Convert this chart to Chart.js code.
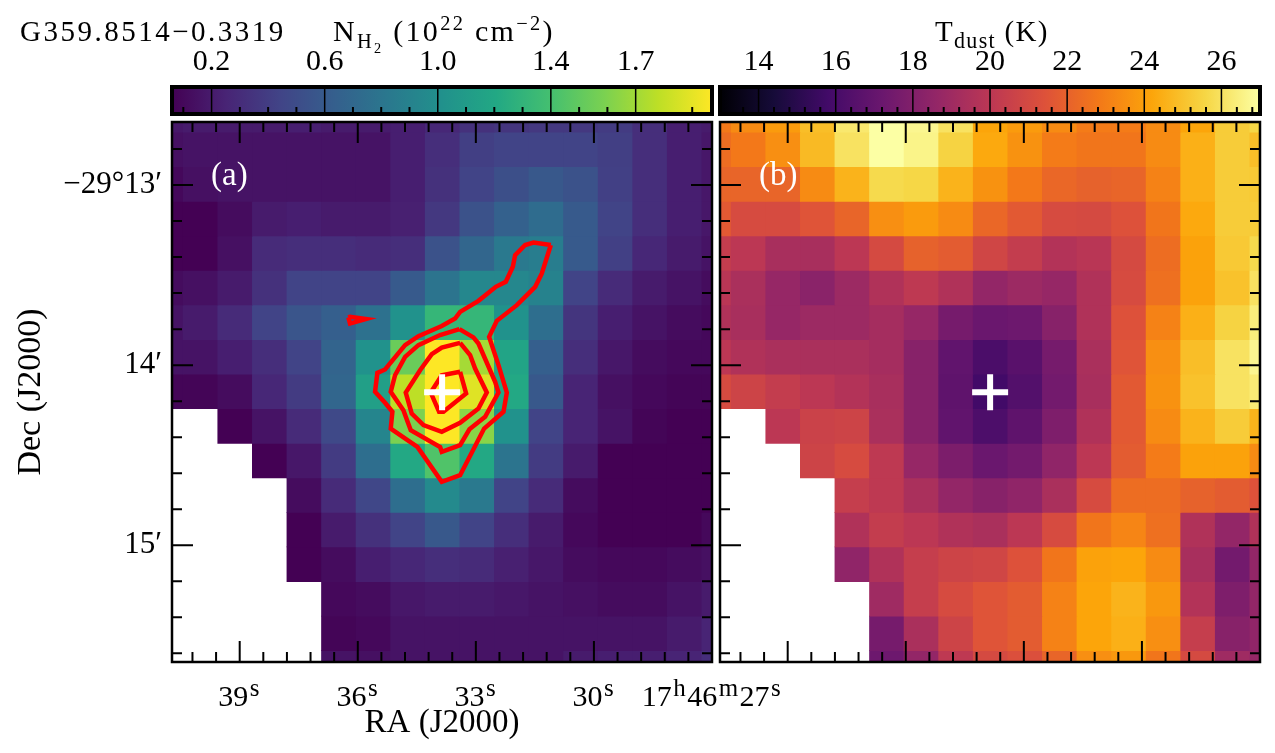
<!DOCTYPE html>
<html>
<head>
<meta charset="utf-8">
<script src="https://cdn.jsdelivr.net/npm/chart.js@4"></script>
<style>
  html, body { margin: 0; padding: 0; background: #fff; overflow: hidden; }
  #page { position: relative; width: 1275px; height: 753px; overflow: hidden; }
  canvas { position: absolute; left: 0; top: 0; }
  .lab { position: absolute; font-family: "Liberation Serif", serif; font-size: 29px; line-height: 34px; color: #000; white-space: nowrap; }
  .lab sub, .lab sup { line-height: 0; font-size: 68%; }
  .lab sub sub { font-size: 70%; }
  .panel { color: #fff; font-size: 33px; }
</style>
</head>
<body>
<div id="page">
  <canvas id="cbN" width="1400" height="753"></canvas>
  <canvas id="cbT" width="1400" height="753"></canvas>
  <canvas id="mapN" width="1400" height="753"></canvas>
  <canvas id="mapT" width="1400" height="753"></canvas>
  <div class="lab" style="left:20px;top:14px;letter-spacing:2.5px">G359.8514−0.3319</div>
  <div class="lab" style="left:333px;top:14px;font-size:30px;letter-spacing:2.3px">N<sub>H<sub>2</sub></sub> (10<sup>22</sup> cm<sup>−2</sup>)</div>
  <div class="lab" style="left:935px;top:14px;letter-spacing:1.3px">T<sub style="font-size:76%">dust</sub> (K)</div>
  <div class="lab panel" style="left:211px;top:157px">(a)</div>
  <div class="lab panel" style="left:759px;top:157px">(b)</div>
</div>
<script>
// column density, 10^22 cm^-2, top row first, null = no data
const nh2Rows = [
  [.18,.20,.20,.20,.22,.20,.20,.22,.27,.33,.35,.37,.37,.39,.31,.22,.20],
  [.14,.16,.16,.16,.16,.16,.16,.22,.31,.41,.44,.44,.44,.41,.31,.22,.18],
  [.10,.14,.16,.16,.16,.16,.16,.22,.33,.44,.52,.58,.54,.42,.31,.22,.18],
  [.06,.06,.12,.20,.22,.20,.20,.23,.37,.54,.65,.73,.60,.44,.31,.22,.18],
  [.06,.06,.14,.29,.31,.31,.29,.31,.54,.69,.83,.86,.60,.42,.27,.20,.16],
  [.12,.14,.20,.33,.44,.44,.44,.60,.79,.94,.94,.90,.44,.29,.20,.16,.12],
  [.16,.20,.29,.44,.56,.63,.77,1.02,1.32,1.32,1.02,.75,.35,.22,.16,.12,.10],
  [.16,.16,.22,.31,.44,.67,1.02,1.53,1.97,1.71,1.17,.63,.31,.18,.12,.10,.10],
  [.08,.08,.12,.27,.39,.69,1.13,1.78,1.97,1.88,1.21,.58,.25,.14,.10,.08,.08],
  [null,null,.06,.16,.29,.48,.92,1.59,1.97,1.63,1.02,.44,.25,.16,.08,.06,.06],
  [null,null,null,.06,.18,.39,.75,1.21,1.44,1.21,.79,.39,.20,.06,.06,.06,.06],
  [null,null,null,null,.12,.29,.46,.75,.96,.83,.44,.29,.12,.06,.06,.06,.06],
  [null,null,null,null,.06,.20,.33,.44,.58,.44,.31,.20,.10,.06,.06,.06,.10],
  [null,null,null,null,.06,.12,.22,.27,.31,.29,.23,.18,.12,.10,.10,.12,.14],
  [null,null,null,null,null,.10,.12,.18,.20,.20,.18,.16,.14,.12,.12,.16,.20],
  [null,null,null,null,null,.08,.10,.16,.16,.16,.16,.16,.16,.16,.16,.20,.25],
  [null,null,null,null,null,.16,.14,.16,.16,.16,.16,.16,.20,.22,.22,.25,.31]
];
// dust temperature, K
const tdustRows = [
  [22.8,23.4,23.9,24.9,26.2,27.0,26.7,26.0,24.2,23.9,23.4,22.9,22.9,23.4,24.2,25.3,25.6],
  [22.4,22.8,23.5,24.8,26.0,27.0,26.6,25.5,24.3,23.6,22.9,22.7,22.7,23.4,24.5,25.3,24.9],
  [22.1,22.1,22.1,23.4,24.6,25.7,25.6,24.6,23.6,22.8,22.2,22.0,22.1,23.1,24.5,25.3,25.2],
  [21.7,21.1,21.1,21.5,22.1,23.5,23.9,23.4,22.2,21.7,21.1,21.0,21.4,22.7,24.3,25.3,25.3],
  [20.3,20.0,19.3,19.3,20.0,21.0,22.0,21.8,20.8,20.3,19.7,19.9,21.0,22.4,24.1,25.2,25.7],
  [19.9,19.4,18.7,18.3,18.9,19.6,20.1,19.6,18.6,18.9,18.7,19.6,21.1,22.5,24.1,25.0,26.0],
  [19.6,19.3,18.7,18.9,18.9,19.2,18.7,17.6,17.2,17.3,18.2,19.6,21.4,23.1,24.5,25.5,26.4],
  [20.0,19.6,19.4,19.4,19.4,19.2,18.2,16.9,16.1,16.6,17.6,19.4,21.5,23.5,24.9,26.0,26.7],
  [21.1,20.7,20.3,20.0,19.7,19.3,18.2,16.8,15.8,16.4,17.5,19.3,21.7,23.6,25.0,26.0,26.3],
  [null,null,20.0,20.6,20.7,19.4,18.2,16.9,16.2,16.8,17.9,19.6,21.7,23.4,24.6,25.3,24.6],
  [null,null,null,20.7,21.1,20.1,18.7,17.8,17.2,17.5,18.5,20.0,21.8,22.9,24.1,24.1,23.4],
  [null,null,null,null,20.4,20.1,19.4,18.6,18.2,18.5,19.4,21.1,22.4,22.4,22.0,21.8,21.4],
  [null,null,null,null,19.6,20.3,20.0,19.6,19.4,20.0,21.1,22.7,23.2,22.5,19.6,18.6,19.6],
  [null,null,null,null,18.5,19.6,20.4,20.7,20.8,21.4,22.7,24.1,24.2,23.4,19.3,17.5,18.6],
  [null,null,null,null,null,19.0,20.4,21.1,21.5,21.8,23.1,24.2,24.6,23.8,19.7,17.9,18.6],
  [null,null,null,null,null,17.6,19.4,20.7,21.5,21.8,23.1,24.2,24.5,23.5,20.4,18.2,18.5],
  [null,null,null,null,null,17.3,18.6,20.1,21.0,21.3,22.1,23.5,23.8,22.7,21.0,19.0,18.7]
];

// contours as [RA seconds, Dec arcmin past -29 deg]
const contourOuter = [[31.095,13.333],[31.535,13.319],[31.747,13.333],[32.002,13.389],[32.061,13.454],[32.239,13.537],[32.493,13.565],[32.934,13.643],[33.4,13.704],[33.527,13.741],[33.866,13.783],[34.459,13.839],[34.798,13.889],[35.307,14.024],[35.502,14.043],[35.561,14.148],[35.307,14.209],[35.12,14.259],[35.163,14.352],[34.485,14.454],[33.866,14.648],[33.4,14.611],[32.79,14.352],[32.298,14.259],[32.213,14.152],[32.425,14.0],[32.663,13.843],[32.468,13.754],[31.959,13.667],[31.493,13.565],[31.324,13.491],[31.095,13.333]];
const contourSecond = [[33.417,13.8],[33.908,13.833],[34.459,13.889],[34.798,13.954],[35.053,14.056],[35.163,14.148],[34.841,14.25],[34.654,14.361],[33.908,14.454],[33.866,14.481],[33.4,14.444],[33.163,14.356],[32.764,14.287],[32.425,14.152],[32.51,14.093],[32.934,13.88],[33.061,13.846],[33.417,13.8]];
const contourThird = [[33.4,13.876],[33.866,13.902],[34.12,13.939],[34.417,14.028],[34.781,14.152],[34.629,14.269],[34.332,14.333],[33.866,14.37],[33.4,14.32],[32.934,14.241],[32.722,14.152],[33.019,14.019],[33.146,13.944],[33.4,13.876]];
const contourInner = [[33.4,14.037],[33.866,14.056],[34.146,14.152],[33.934,14.259],[33.824,14.259],[33.247,14.157],[33.4,14.037]];
const contourSmall = [[36.239,13.735],[36.197,13.769],[35.79,13.744],[36.197,13.731],[36.239,13.735]];
const sourcePos = [33.857, 14.15];

// axes
const raRange = [27, 40.72];
const decRange = [12.65, 15.648];
const raMajor = [39, 36, 33, 30, 27];
const raLabels = [[['39', 0], ['s', 1]], [['36', 0], ['s', 1]], [['33', 0], ['s', 1]], [['30', 0], ['s', 1]],
  [['17', 0], ['h', 1], ['46', 0], ['m', 1], ['27', 0], ['s', 1]]];
const raTicks = [27,27.6,28.2,28.8,29.4,30,30.6,31.2,31.8,32.4,33,33.6,34.2,34.8,35.4,36,36.6,37.2,37.8,38.4,39,39.6,40.2];
const decMajor = [13, 14, 15];
const decLabels = ['−29°13′', '14′', '15′'];
const decTicks = [12.8,13,13.2,13.4,13.6,13.8,14,14.2,14.4,14.6,14.8,15,15.2,15.4,15.6];
const raFirst = 40.873, raStep = 0.8785;
const decFirst = 12.61, decStep = 0.19194;

// colour bars
const nRange = [0.06, 1.97];
const nMajor = [0.2, 0.6, 1.0, 1.4, 1.7];
const nTicks = [0.1,0.2,0.3,0.4,0.5,0.6,0.7,0.8,0.9,1.0,1.1,1.2,1.3,1.4,1.5,1.6,1.7,1.9];
const tRange = [13, 27];
const tMajor = [14, 16, 18, 20, 22, 24, 26];
const tTicks = [13.6,14,14.4,14.8,15.2,15.6,16,16.4,16.8,17.2,17.6,18,18.4,18.8,19.2,19.6,20,20.4,20.8,21.2,21.6,22,22.4,22.8,23.2,23.6,24,24.4,24.8,25.2,25.6,26,26.4,26.8];

const viridis = ['#440154','#482475','#414487','#355f8d','#2a788e','#21918c','#22a884','#44bf70','#7ad151','#bddf26','#fde725'];
const inferno = ['#000004','#160b39','#420a68','#6a176e','#932667','#bc3754','#dd513a','#f37819','#fca50a','#f6d746','#fcffa4'];

const FONT = '"Liberation Serif", serif';

function hexRgb(h) {
  return [1, 3, 5].map(i => parseInt(h.slice(i, i + 2), 16));
}

function cmap(stops, v, range) {
  const t = Math.min(1, Math.max(0, (v - range[0]) / (range[1] - range[0]))) * (stops.length - 1);
  const i = Math.min(stops.length - 2, Math.floor(t));
  const a = hexRgb(stops[i]), b = hexRgb(stops[i + 1]);
  const c = a.map((x, k) => Math.round(x + (b[k] - x) * (t - i)));
  return `rgb(${c[0]},${c[1]},${c[2]})`;
}

// one floating-bar dataset per image row
function cellDatasets(rows, stops, range) {
  return rows.map((row, r) => {
    const dec = decFirst + decStep * r;
    const data = [];
    row.forEach((v, c) => {
      if (v === null) return;
      data.push({ x: raFirst - raStep * c, y: [dec - decStep / 2, dec + decStep / 2], v: v });
    });
    return {
      type: 'bar',
      grouped: false,
      data: data,
      barThickness: 34.6,
      inflateAmount: 0.4,
      borderWidth: 0,
      order: 5,
      backgroundColor: ctx => ctx.raw ? cmap(stops, ctx.raw.v, range) : '#fff'
    };
  });
}

function contourDataset(pts) {
  return {
    type: 'scatter',
    data: pts.map(p => ({ x: p[0], y: p[1] })),
    showLine: true,
    borderColor: '#ff0000',
    borderWidth: 4.5,
    pointRadius: 0,
    tension: 0,
    order: 1
  };
}

function sourceDataset() {
  return {
    type: 'scatter',
    data: [{ x: sourcePos[0], y: sourcePos[1] }],
    showLine: false,
    pointStyle: 'cross',
    pointRadius: 18,
    pointBorderColor: '#fff',
    pointBorderWidth: 6,
    order: 0
  };
}

// inward ticks on all four sides plus the frame
const frameTicks = {
  id: 'frameTicks',
  afterDraw(chart) {
    const { ctx, chartArea: a, scales } = chart;
    ctx.save();
    ctx.strokeStyle = '#000';
    ctx.lineWidth = 2;
    ctx.beginPath();
    raTicks.forEach(v => {
      const x = scales.x.getPixelForValue(v);
      const len = raMajor.includes(v) ? 21 : 10;
      ctx.moveTo(x, a.top); ctx.lineTo(x, a.top + len);
      ctx.moveTo(x, a.bottom); ctx.lineTo(x, a.bottom - len);
    });
    decTicks.forEach(v => {
      const y = scales.y.getPixelForValue(v);
      const len = decMajor.includes(v) ? 21 : 10;
      ctx.moveTo(a.left, y); ctx.lineTo(a.left + len, y);
      ctx.moveTo(a.right, y); ctx.lineTo(a.right - len, y);
    });
    ctx.stroke();
    ctx.lineWidth = 2.5;
    ctx.strokeRect(a.left, a.top, a.right - a.left, a.bottom - a.top);
    ctx.restore();
  }
};

// RA labels carry real superscripts, so they are set piece by piece at the scale's tick pixel
const raTickText = {
  id: 'raTickText',
  afterDraw(chart) {
    const { ctx, chartArea: a, scales } = chart;
    ctx.save();
    ctx.fillStyle = '#000';
    ctx.textBaseline = 'alphabetic';
    ctx.textAlign = 'left';
    raMajor.forEach((v, i) => {
      const pieces = raLabels[i];
      const fontOf = sup => (sup ? '25px ' : '30px ') + FONT;
      let w = 0;
      pieces.forEach(p => { ctx.font = fontOf(p[1]); w += ctx.measureText(p[0]).width + 1.5; });
      let x = scales.x.getPixelForValue(v) - w / 2;
      pieces.forEach(p => {
        ctx.font = fontOf(p[1]);
        ctx.fillText(p[0], x, a.bottom + (p[1] ? 34 : 44));
        x += ctx.measureText(p[0]).width + 1.5;
      });
    });
    ctx.restore();
  }
};

function mapChart(id, rows, stops, range, labelled, pad, extra) {
  return new Chart(document.getElementById(id), {
    type: 'bar',
    data: { datasets: extra.concat(cellDatasets(rows, stops, range)) },
    options: {
      responsive: false,
      animation: false,
      layout: { padding: pad },
      plugins: { legend: { display: false }, tooltip: { enabled: false } },
      scales: {
        x: {
          type: 'linear',
          reverse: true,
          offset: false,
          min: raRange[0],
          max: raRange[1],
          grid: { display: false },
          border: { display: false },
          afterBuildTicks: s => { s.ticks = raTicks.map(v => ({ value: v })); },
          afterFit: s => { s.height = 91; },
          title: { display: labelled, text: 'RA (J2000)', color: '#000', font: { family: FONT, size: 33 }, padding: { top: 2, bottom: 10 } },
          ticks: { display: false }
        },
        y: {
          type: 'linear',
          reverse: true,
          min: decRange[0],
          max: decRange[1],
          grid: { display: false },
          border: { display: false },
          afterBuildTicks: s => { s.ticks = decTicks.map(v => ({ value: v })); },
          afterFit: s => { s.width = labelled ? 172 : 0; },
          title: { display: labelled, text: 'Dec (J2000)', color: '#000', font: { family: FONT, size: 34 }, padding: { top: 11, bottom: 0 } },
          ticks: {
            display: labelled,
            autoSkip: false,
            padding: 2,
            color: '#000',
            font: { family: FONT, size: 31 },
            callback: v => {
              const i = decMajor.indexOf(v);
              return i < 0 ? '' : decLabels[i];
            }
          }
        }
      }
    },
    plugins: labelled ? [frameTicks, raTickText] : [frameTicks]
  });
}

function barGradient(stops) {
  return c => {
    const a = c.chart.chartArea;
    if (!a) return '#000';
    const g = c.chart.ctx.createLinearGradient(a.left, 0, a.right, 0);
    stops.forEach((s, i) => g.addColorStop(i / (stops.length - 1), s));
    return g;
  };
}

function colorBar(id, stops, range, majors, minorTicks, pad) {
  const barFrame = {
    id: 'barFrame',
    afterDraw(chart) {
      const { ctx, chartArea: a, scales } = chart;
      ctx.save();
      ctx.strokeStyle = '#000';
      minorTicks.forEach(v => {
        const x = scales.x.getPixelForValue(v);
        const major = majors.includes(v);
        ctx.lineWidth = major ? 1.5 : 2;
        ctx.beginPath();
        ctx.moveTo(x, major ? a.top : a.bottom - 7);
        ctx.lineTo(x, a.bottom);
        ctx.stroke();
      });
      ctx.lineWidth = 4;
      ctx.strokeRect(a.left, a.top, a.right - a.left, a.bottom - a.top);
      ctx.restore();
    }
  };
  return new Chart(document.getElementById(id), {
    type: 'bar',
    data: {
      labels: [''],
      datasets: [{ data: [range], backgroundColor: barGradient(stops), barPercentage: 1, categoryPercentage: 1, borderWidth: 0 }]
    },
    options: {
      indexAxis: 'y',
      responsive: false,
      animation: false,
      layout: { padding: pad },
      plugins: { legend: { display: false }, tooltip: { enabled: false } },
      scales: {
        x: {
          type: 'linear',
          position: 'top',
          min: range[0],
          max: range[1],
          grid: { display: false },
          border: { display: false },
          afterBuildTicks: s => { s.ticks = majors.map(v => ({ value: v })); },
          afterFit: s => { s.height = 87; },
          ticks: {
            autoSkip: false,
            maxRotation: 0,
            padding: -1,
            color: '#000',
            font: { family: FONT, size: 30 },
            callback: v => stops === viridis ? v.toFixed(1) : String(v)
          }
        },
        y: { display: false }
      }
    },
    plugins: [barFrame]
  });
}

colorBar('cbN', viridis, nRange, nMajor, nTicks, { left: 172, right: 688, top: 0, bottom: 639 });
colorBar('cbT', inferno, tRange, tMajor, tTicks, { left: 720, right: 140, top: 0, bottom: 639 });

mapChart('mapN', nh2Rows, viridis, nRange, true, { left: 0, right: 688, top: 122, bottom: 0 },
  [sourceDataset(), contourDataset(contourOuter), contourDataset(contourSecond), contourDataset(contourThird), contourDataset(contourInner), contourDataset(contourSmall)]);
mapChart('mapT', tdustRows, inferno, tRange, false, { left: 720, right: 140, top: 122, bottom: 0 }, [sourceDataset()]);
</script>
</body>
</html>
